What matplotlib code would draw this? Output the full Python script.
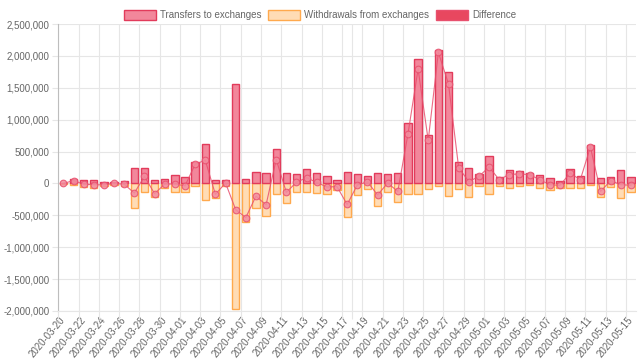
import matplotlib.pyplot as plt
import numpy as np
import pandas as pd
from matplotlib.patches import Patch
from matplotlib.ticker import FuncFormatter

plt.rcParams['font.family'] = ['Liberation Sans', 'DejaVu Sans']

# Daily dates (categories)
dates = pd.date_range('2020-03-20', '2020-05-15').strftime('%Y-%m-%d').tolist()

# Values (in thousands)
transfers = [5, 68, 47, 47, 16, 21, 31, 235, 235, 47, 63, 131, 99, 340, 616, 47, 47, 1552,
             68, 183, 167, 538, 167, 152, 219, 167, 110, 47, 183, 152, 115, 157, 141, 157,
             946, 1959, 757, 2090, 1750, 329, 245, 152, 423, 104, 209, 188, 167, 125, 83,
             42, 225, 110, 601, 78, 94, 209, 99]
withdrawals = [-5, -26, -57, -68, -42, -21, -42, -392, -131, -219, -78, -141, -141, -42, -261,
               -225, -37, -1964, -611, -392, -507, -172, -313, -141, -141, -157, -172, -104,
               -522, -183, -94, -350, -141, -293, -172, -167, -89, -37, -193, -89, -219, -47,
               -167, -47, -78, -42, -31, -65, -110, -78, -65, -65, -31, -209, -52, -235, -130]
difference = [0, 45, -12, -20, -22, 0, -12, -150, 110, -160, -10, -8, -38, 300, 365, -172, 8,
              -410, -535, -200, -335, 375, -140, 20, 90, 15, -55, -50, -330, -25, 25, -180, 5,
              -125, 775, 1795, 675, 2055, 1560, 250, 28, 110, 258, 60, 140, 150, 138, 58, -20,
              -30, 165, 55, 572, -125, 44, -20, -28]

transfers = np.array(transfers) * 1000
withdrawals = np.array(withdrawals) * 1000
difference = np.array(difference) * 1000
x = np.arange(len(dates))

# Colours
red_fill = '#f2879b'
red_edge = '#e23b5b'
org_fill = '#ffdcb5'
org_edge = '#ffa94d'
diff_col = '#e8475f'
line_col = '#e8506e'
grid_col = '#e6e6e6'
text_col = '#666666'

fig = plt.figure(figsize=(6.4, 3.61), dpi=100)
ax = fig.add_axes([58.3 / 640, 1 - 311 / 361, (636 - 58.3) / 640, (311 - 24) / 361])

# Bars
ax.bar(x, withdrawals, width=0.72, color=org_fill, edgecolor=org_edge, linewidth=1.0, zorder=2)
ax.bar(x, transfers, width=0.72, color=red_fill, edgecolor=red_edge, linewidth=1.0, zorder=3)

# Difference line
ax.plot(x, difference, color=line_col, linewidth=0.8, alpha=0.85, marker='o', markersize=4.8,
        markerfacecolor=(0.95, 0.55, 0.62, 0.35), markeredgecolor=line_col,
        markeredgewidth=0.8, zorder=4)

# Axes limits and ticks
ax.set_xlim(-0.5, len(dates) - 0.5)
ax.set_ylim(-2000000, 2500000)
ax.set_yticks(np.arange(-2000000, 2500001, 500000))
ax.yaxis.set_major_formatter(FuncFormatter(lambda v, p: f'{int(v):,}'))

ax.set_xticks(x[::2])
ax.set_xticklabels(dates[::2], rotation=50, ha='right', va='center', rotation_mode='anchor')
boundaries = list(np.arange(-0.5, len(dates) - 0.5, 2)) + [28.5]
ax.set_xticks(boundaries, minor=True)

ax.tick_params(axis='x', which='major', length=0, pad=5, labelsize=7, colors=text_col)
ax.tick_params(axis='x', which='minor', length=6, width=0.8, color=grid_col)
ax.tick_params(axis='y', length=4.5, width=0.8, color=grid_col, labelsize=7,
               labelcolor=text_col, pad=2)

# Grid
ax.grid(True, axis='y', color=grid_col, linewidth=0.8, zorder=0)
ax.grid(True, axis='x', which='minor', color=grid_col, linewidth=0.8, zorder=0)
ax.set_axisbelow(True)

for side in ['top', 'right']:
    ax.spines[side].set_visible(False)
ax.spines['left'].set_color('#bdbdbd')
ax.spines['left'].set_linewidth(0.8)
ax.spines['bottom'].set_color(grid_col)
ax.spines['bottom'].set_linewidth(0.8)

# Legend
handles = [Patch(facecolor=red_fill, edgecolor=red_edge, linewidth=1.0),
           Patch(facecolor=org_fill, edgecolor=org_edge, linewidth=1.0),
           Patch(facecolor=diff_col, edgecolor=line_col, linewidth=1.0)]
labels = ['Transfers to exchanges', 'Withdrawals from exchanges', 'Difference']
fig.legend(handles, labels, loc='center', bbox_to_anchor=(0.5, 1 - 15 / 361), ncol=3,
           frameon=False, fontsize=7, labelcolor=text_col, handlelength=3.3,
           handleheight=1.2, handletextpad=0.4, columnspacing=0.7, borderaxespad=0)

fig.savefig('out.png', dpi=100)
